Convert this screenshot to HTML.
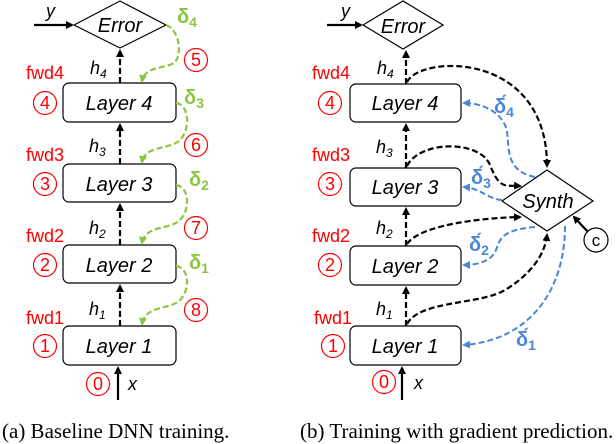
<!DOCTYPE html>
<html><head><meta charset="utf-8"><style>
html,body{margin:0;padding:0;background:#fff;}
svg{display:block;}
text{font-family:"Liberation Sans",sans-serif;}
.lay{font-size:20px;font-style:italic;}
.red{fill:#f00;font-size:18px;}
.hl{font-size:18px;font-style:italic;}
.cap{font-family:"Liberation Serif",serif;font-size:21px;}
</style></head><body>
<svg width="616" height="444" viewBox="0 0 616 444" xmlns="http://www.w3.org/2000/svg">
<defs>
<marker id="ak" markerWidth="8" markerHeight="8" refX="6" refY="4" orient="auto" markerUnits="userSpaceOnUse"><path d="M0,0 L8,4 L0,8 z" fill="#000"/></marker>
<marker id="ag" markerWidth="8" markerHeight="8" refX="6" refY="4" orient="auto" markerUnits="userSpaceOnUse"><path d="M0,0 L8,4 L0,8 z" fill="#8cc63f"/></marker>
<marker id="ab" markerWidth="8" markerHeight="8" refX="6" refY="4" orient="auto" markerUnits="userSpaceOnUse"><path d="M0,0 L8,4 L0,8 z" fill="#4a86d4"/></marker>
</defs>
<g fill="none" stroke="#000" stroke-width="1.2">
<polygon points="74,25 120,1 166,25 120,48" fill="#fff"/>
<rect x="63" y="83" width="113" height="39" rx="6"/>
<rect x="63" y="164" width="113" height="38" rx="6"/>
<rect x="63" y="245" width="113" height="38" rx="6"/>
<rect x="63" y="326" width="113" height="39" rx="6"/>
<polygon points="363,25 403,1 443,25 403,49" fill="#fff"/>
<rect x="350" y="84" width="111" height="38" rx="6"/>
<rect x="350" y="168" width="111" height="38" rx="6"/>
<rect x="350" y="246" width="111" height="39" rx="6"/>
<rect x="350" y="326" width="111" height="39" rx="6"/>
<polygon points="502,201 547,170 593,201 547,231" fill="#fff"/>
<circle cx="596" cy="240" r="12"/>
</g>
<g fill="none" stroke="#f00" stroke-width="1.2">
<circle cx="45" cy="103" r="11.5"/><circle cx="45" cy="184" r="11.5"/><circle cx="45" cy="265" r="11.5"/><circle cx="45" cy="346" r="11.5"/><circle cx="98" cy="384" r="11.5"/>
<circle cx="196" cy="60" r="11.5"/><circle cx="196" cy="145" r="11.5"/><circle cx="196" cy="228" r="11.5"/><circle cx="196" cy="310" r="11.5"/>
<circle cx="330" cy="103" r="11.5"/><circle cx="330" cy="184" r="11.5"/><circle cx="330" cy="265" r="11.5"/><circle cx="333" cy="346" r="11.5"/><circle cx="384" cy="382" r="11.5"/>
</g>
<g class="red" text-anchor="middle">
<text x="45" y="109">4</text><text x="45" y="190">3</text><text x="45" y="271">2</text><text x="45" y="352">1</text><text x="98" y="390">0</text>
<text x="196" y="66">5</text><text x="196" y="151">6</text><text x="196" y="234">7</text><text x="196" y="316">8</text>
<text x="330" y="109">4</text><text x="330" y="190">3</text><text x="330" y="271">2</text><text x="333" y="352">1</text><text x="384" y="388">0</text>
</g>
<g class="red">
<text x="26" y="79">fwd4</text><text x="26" y="161">fwd3</text><text x="26" y="242">fwd2</text><text x="26" y="324">fwd1</text>
<text x="312" y="79">fwd4</text><text x="312" y="161">fwd3</text><text x="312" y="242">fwd2</text><text x="314" y="324">fwd1</text>
</g>
<g class="lay" text-anchor="middle">
<text x="119" y="110">Layer 4</text><text x="119" y="191">Layer 3</text><text x="119" y="272">Layer 2</text><text x="119" y="353">Layer 1</text>
<text x="120" y="32">Error</text>
<text x="405" y="110">Layer 4</text><text x="405" y="194">Layer 3</text><text x="405" y="273">Layer 2</text><text x="405" y="353">Layer 1</text>
<text x="403" y="33">Error</text>
<text x="548" y="208">Synth</text>
</g>
<text x="596" y="246" font-size="17" text-anchor="middle">c</text>
<g class="hl">
<text x="90" y="74">h<tspan font-size="12" dy="4">4</tspan></text>
<text x="89" y="152">h<tspan font-size="12" dy="4">3</tspan></text>
<text x="89" y="234">h<tspan font-size="12" dy="4">2</tspan></text>
<text x="89" y="315">h<tspan font-size="12" dy="4">1</tspan></text>
<text x="377" y="74">h<tspan font-size="12" dy="4">4</tspan></text>
<text x="376" y="153">h<tspan font-size="12" dy="4">3</tspan></text>
<text x="376" y="234">h<tspan font-size="12" dy="4">2</tspan></text>
<text x="376" y="315">h<tspan font-size="12" dy="4">1</tspan></text>
<text x="46" y="17">y</text><text x="128" y="390">x</text>
<text x="341" y="17">y</text><text x="414" y="389">x</text>
</g>
<g stroke="#000" stroke-width="2.2" fill="none">
<line x1="34" y1="25" x2="72" y2="25" marker-end="url(#ak)"/>
<line x1="118" y1="400" x2="118" y2="368" marker-end="url(#ak)"/>
<line x1="327" y1="25" x2="361" y2="25" marker-end="url(#ak)"/>
<line x1="402" y1="400" x2="402" y2="368" marker-end="url(#ak)"/>
<line x1="588" y1="232" x2="574" y2="217" marker-end="url(#ak)"/>
</g>
<g stroke="#000" stroke-width="2.2" fill="none" stroke-dasharray="6,3">
<line x1="120" y1="83" x2="120" y2="51" marker-end="url(#ak)"/>
<line x1="120" y1="164" x2="120" y2="125" marker-end="url(#ak)"/>
<line x1="120" y1="245" x2="120" y2="205" marker-end="url(#ak)"/>
<line x1="120" y1="326" x2="120" y2="286" marker-end="url(#ak)"/>
<line x1="406" y1="84" x2="406" y2="52" marker-end="url(#ak)"/>
<line x1="406" y1="168" x2="406" y2="125" marker-end="url(#ak)"/>
<line x1="406" y1="246" x2="406" y2="209" marker-end="url(#ak)"/>
<line x1="406" y1="326" x2="406" y2="288" marker-end="url(#ak)"/>
<path d="M407,82 C420,55 547,50 547,166" marker-end="url(#ak)"/>
<path d="M407,166 C420,140 480,140 490,165 S505,185 520,186" marker-end="url(#ak)"/>
<path d="M407,244 C420,225 480,218 520,217" marker-end="url(#ak)"/>
<path d="M407,324 C420,300 480,305 505,290 S545,255 547,235" marker-end="url(#ak)"/>
</g>
<g stroke="#8cc63f" stroke-width="2.2" fill="none" stroke-dasharray="6,3">
<path d="M166,25 C180,30 182,55 175,62 S145,65 142,81" marker-end="url(#ag)"/>
<path d="M176,103 C190,105 190,130 180,140 S145,145 142,162" marker-end="url(#ag)"/>
<path d="M176,185 C190,187 190,210 180,220 S145,225 142,243" marker-end="url(#ag)"/>
<path d="M176,266 C190,268 190,290 180,300 S145,305 142,324" marker-end="url(#ag)"/>
</g>
<g fill="#8cc63f" font-family="Liberation Serif,serif" font-size="20" font-weight="bold">
<text x="177" y="23">δ<tspan font-size="14" dy="4">4</tspan></text>
<text x="184" y="104">δ<tspan font-size="14" dy="4">3</tspan></text>
<text x="189" y="186">δ<tspan font-size="14" dy="4">2</tspan></text>
<text x="189" y="269">δ<tspan font-size="14" dy="4">1</tspan></text>
</g>
<g stroke="#4a86d4" stroke-width="2" fill="none" stroke-dasharray="6,3">
<path d="M535,177 C500,170 512,140 505,125 S480,103 464,103" marker-end="url(#ab)"/>
<path d="M502,200 C490,200 480,188 464,187" marker-end="url(#ab)"/>
<path d="M535,227 C500,230 500,240 496,250 S480,265 464,265" marker-end="url(#ab)"/>
<path d="M565,226 C565,290 530,340 464,345" marker-end="url(#ab)"/>
</g>
<g fill="#4a86d4" font-family="Liberation Serif,serif" font-size="20" font-weight="bold">
<text x="494" y="113">δ́<tspan font-size="14" dy="4">4</tspan></text>
<text x="471" y="184">δ́<tspan font-size="14" dy="4">3</tspan></text>
<text x="469" y="251">δ́<tspan font-size="14" dy="4">2</tspan></text>
<text x="516" y="346">δ́<tspan font-size="14" dy="4">1</tspan></text>
</g>
<text class="cap" x="2" y="438">(a) Baseline DNN training.</text>
<text class="cap" x="300" y="438">(b) Training with gradient prediction.</text>
</svg>
</body></html>
